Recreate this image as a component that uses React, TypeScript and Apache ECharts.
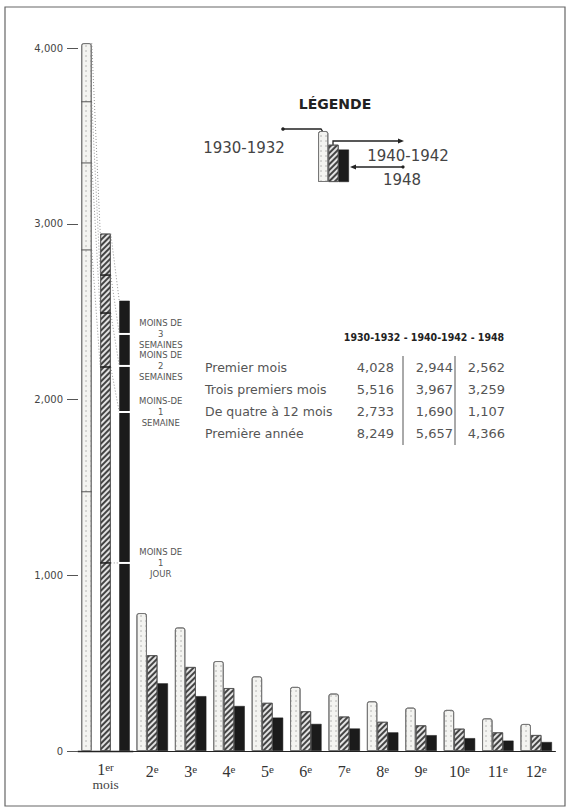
import React, { useEffect, useRef } from "react";
import * as echarts from "echarts";

// ---------- data ----------
const categories = ["1er mois", "2e", "3e", "4e", "5e", "6e", "7e", "8e", "9e", "10e", "11e", "12e"];
const seriesNames = ["1930-1932", "1940-1942", "1948"];
const values1930 = [4028, 785, 703, 512, 425, 365, 327, 283, 247, 234, 186, 154];
const values1940 = [2944, 545, 478, 358, 274, 226, 196, 166, 146, 127, 106, 91];
const values1948 = [2562, 385, 312, 256, 190, 154, 128, 106, 90, 73, 59, 51];
const yMin = 0;
const yMax = 4000;
const yInterval = 1000;
// first-month subdivisions (cumulative): <3 weeks, <2 weeks, <1 week, <1 day
const marks1930 = [3694, 3346, 2851, 1475];
const marks1940 = [2708, 2492, 2185, 1070];
const marks1948 = [2373, 2191, 1929, 1070];
const markLabels = ["MOINS DE\n3\nSEMAINES", "MOINS DE\n2\nSEMAINES", "MOINS-DE\n1\nSEMAINE", "MOINS DE\n1\nJOUR"];
const legendTitle = "LÉGENDE";
const tableHeader = "1930-1932 - 1940-1942 - 1948";
const tableRowLabels = ["Premier mois", "Trois premiers mois", "De quatre à 12 mois", "Première année"];
const table1930 = [4028, 5516, 2733, 8249];
const table1940 = [2944, 3967, 1690, 5657];
const table1948 = [2562, 3259, 1107, 4366];

// ---------- layout / style ----------
const W = 569;
const H = 810;
const BAR_W = 10.5;
const GAP1 = 0.81;
const STEP1 = BAR_W * (1 + GAP1);
const GRID_TOP = 48;
const GRID_BOTTOM = 59;
const LABEL_FONT = "DejaVu Sans";
const SERIF = "Liberation Serif";

const fmt = (v: number) => String(v).replace(/\B(?=(\d{3})+(?!\d))/g, ",");

const stipple = {
  symbol: "circle",
  symbolSize: 0.7,
  dashArrayX: [2, 3],
  dashArrayY: [2, 3],
  color: "rgba(70,70,70,0.45)",
};
const hatch = {
  symbol: "rect",
  symbolSize: 1,
  dashArrayX: [1, 0],
  dashArrayY: [1.3, 1.9],
  rotation: -Math.PI / 4,
  color: "rgba(40,40,40,0.85)",
};
const styles = [
  { color: "#f4f4f1", borderColor: "#777", borderWidth: 1, borderRadius: [2, 2, 0, 0], decal: stipple },
  { color: "#e2e2e2", borderColor: "#555", borderWidth: 0.8, decal: hatch },
  { color: "#1b1b1b", borderColor: "#1b1b1b", borderWidth: 0.5 },
];
const allValues = [values1930, values1940, values1948];

function xLabel(v: string) {
  const m = v.match(/^(\d+)(\D+?)(?: (.+))?$/);
  if (!m) return v;
  return m[3] ? `{n|${m[1]}}{s|${m[2]}}\n{m|${m[3]}}` : `{n|${m[1]}}{s|${m[2]}}`;
}
const rich = {
  n: { fontSize: 16, fontFamily: SERIF, color: "#333", lineHeight: 17 },
  s: { fontSize: 11, fontFamily: SERIF, color: "#333", lineHeight: 17, verticalAlign: "top" },
  m: { fontSize: 13.5, fontFamily: SERIF, color: "#444", lineHeight: 13 },
};

export default function App() {
  const ref = useRef<HTMLDivElement>(null);
  useEffect(() => {
    if (!ref.current) return;
    const chart = echarts.init(ref.current, undefined, { renderer: "svg" });

    const grid1Left = 78;
    const grid2Left = 133;
    const grid2Right = 555.4;

    const lv1930 = [values1930[0], ...marks1930];
    const lv1940 = [values1940[0], ...marks1940];
    const lv1948 = [values1948[0], ...marks1948];
    const markData: number[][] = [];
    marks1930.forEach((v) => markData.push([0, v, 0]));
    marks1940.forEach((v) => markData.push([0, v, 1]));
    marks1948.forEach((v) => markData.push([0, v, 2]));
    const connData: number[][] = [];
    for (let i = 0; i < 4; i++) connData.push([0, lv1930[i], 0, lv1940[i]]);
    for (let i = 0; i < 5; i++) connData.push([0, lv1940[i], 1, lv1948[i]]);

    const barSeries: any[] = [];
    allValues.forEach((vals, s) => {
      barSeries.push({
        type: "bar",
        name: seriesNames[s],
        xAxisIndex: 0,
        yAxisIndex: 0,
        data: vals.slice(0, 1),
        barWidth: BAR_W,
        barGap: `${GAP1 * 100}%`,
        itemStyle: styles[s],
        clip: false,
        silent: true,
        z: 2,
      });
    });
    allValues.forEach((vals, s) => {
      barSeries.push({
        type: "bar",
        name: seriesNames[s],
        xAxisIndex: 1,
        yAxisIndex: 1,
        data: vals.slice(1),
        barWidth: BAR_W,
        barGap: "0%",
        itemStyle: styles[s],
        silent: true,
      });
    });
    allValues.forEach((vals, s) => {
      barSeries.push({
        type: "bar",
        name: seriesNames[s],
        xAxisIndex: 2,
        yAxisIndex: 2,
        data: vals.slice(0, 1),
        barWidth: 10.3,
        barGap: "0%",
        itemStyle: styles[s],
        silent: true,
      });
    });

    const markSeries = {
      type: "custom",
      xAxisIndex: 0,
      yAxisIndex: 0,
      clip: false,
      silent: true,
      z: 10,
      data: markData,
      encode: { x: 0, y: 1 },
      renderItem: (_p: any, api: any) => {
        const v = api.value(1);
        const s = api.value(2);
        const pt = api.coord([0, v]);
        const cx = pt[0] + (s - 1) * STEP1;
        const half = BAR_W / 2;
        if (s === 2) {
          return {
            type: "rect",
            z2: 100,
            shape: { x: cx - half - 0.6, y: pt[1] - 1, width: BAR_W + 1.2, height: 2 },
            style: { fill: "#ffffff" },
          };
        }
        return {
          type: "line",
          z2: 100,
          shape: { x1: cx - half, y1: pt[1], x2: cx + half, y2: pt[1] },
          style: { stroke: s === 0 ? "#555" : "#222", lineWidth: s === 0 ? 1 : 1.6 },
        };
      },
    };

    const connSeries = {
      type: "custom",
      xAxisIndex: 0,
      yAxisIndex: 0,
      clip: false,
      silent: true,
      z: 9,
      data: connData,
      encode: { x: 0, y: 1 },
      renderItem: (_p: any, api: any) => {
        const from = api.value(2);
        const p1 = api.coord([0, api.value(1)]);
        const p2 = api.coord([0, api.value(3)]);
        const half = BAR_W / 2;
        const x1 = p1[0] + (from - 1) * STEP1 + half;
        const x2 = p1[0] + from * STEP1 - half;
        return {
          type: "line",
          shape: { x1, y1: p1[1], x2, y2: p2[1] },
          style: { stroke: "#888", lineWidth: 0.9, lineDash: [1, 2] },
        };
      },
    };

    const annotSeries = {
      type: "custom",
      xAxisIndex: 0,
      yAxisIndex: 0,
      clip: false,
      silent: true,
      z: 10,
      data: marks1948.map((v) => [0, v]),
      encode: { x: 0, y: 1 },
      renderItem: (p: any, api: any) => {
        const pt = api.coord([0, api.value(1)]);
        const x = pt[0] + STEP1 + BAR_W / 2 + 31;
        return {
          type: "text",
          x,
          y: pt[1],
          style: {
            text: markLabels[p.dataIndex],
            fill: "#555",
            fontSize: 8.5,
            fontFamily: LABEL_FONT,
            align: "center",
            verticalAlign: "middle",
            lineHeight: 11,
          },
        };
      },
    };

    // ---------- graphic: frame, legend, table ----------
    const g: any[] = [];
    g.push({
      type: "rect",
      shape: { x: 5, y: 7, width: 560, height: 799 },
      style: { fill: "none", stroke: "#666", lineWidth: 1.2 },
      silent: true,
    });
    g.push({
      type: "text",
      x: 335,
      y: 104,
      style: { text: legendTitle, fill: "#222", fontSize: 14, fontWeight: "bold", fontFamily: LABEL_FONT, align: "center", verticalAlign: "middle" },
    });
    const lineStyle = { stroke: "#222", lineWidth: 1.3, fill: "none" };
    g.push({ type: "polyline", shape: { points: [[283, 129], [321, 129], [323, 132]] }, style: lineStyle });
    g.push({ type: "circle", shape: { cx: 283, cy: 129, r: 1.8 }, style: { fill: "#222" } });
    g.push({ type: "polyline", shape: { points: [[333, 146], [333, 141], [399, 141]] }, style: lineStyle });
    g.push({ type: "polygon", shape: { points: [[398, 138.5], [404, 141], [398, 143.5]] }, style: { fill: "#222" } });
    g.push({ type: "line", shape: { x1: 355, y1: 167, x2: 403, y2: 167 }, style: lineStyle });
    g.push({ type: "polygon", shape: { points: [[356, 164.5], [350, 167], [356, 169.5]] }, style: { fill: "#222" } });
    g.push({ type: "circle", shape: { cx: 403, cy: 167, r: 1.6 }, style: { fill: "#222" } });
    const legendText = (text: string, x: number, y: number) => ({
      type: "text",
      x,
      y,
      style: { text, fill: "#444", fontSize: 15, fontFamily: LABEL_FONT, align: "center", verticalAlign: "middle" },
    });
    g.push(legendText(seriesNames[0], 244, 148));
    g.push(legendText(seriesNames[1], 408, 156));
    g.push(legendText(seriesNames[2], 402, 180));

    // table
    g.push({
      type: "text",
      x: 424,
      y: 337,
      style: { text: tableHeader, fill: "#222", fontSize: 10.5, fontWeight: "bold", fontFamily: "DejaVu Sans Condensed, DejaVu Sans", align: "center", verticalAlign: "middle" },
    });
    const rowY = [367, 389, 411, 433];
    const colRight = [394, 453, 505];
    const cols = [table1930, table1940, table1948];
    tableRowLabels.forEach((lab, i) => {
      g.push({
        type: "text",
        x: 205,
        y: rowY[i],
        style: { text: lab, fill: "#555", fontSize: 12.5, fontFamily: LABEL_FONT, align: "left", verticalAlign: "middle" },
      });
      cols.forEach((col, c) => {
        g.push({
          type: "text",
          x: colRight[c],
          y: rowY[i],
          style: { text: fmt(col[i]), fill: "#555", fontSize: 13, fontFamily: LABEL_FONT, align: "right", verticalAlign: "middle" },
        });
      });
    });
    [403, 455].forEach((x) => {
      g.push({ type: "line", shape: { x1: x, y1: 356, x2: x, y2: 445 }, style: { stroke: "#555", lineWidth: 1 } });
    });

    const yAxisBase = { type: "value", min: yMin, max: yMax, interval: yInterval };
    const option: any = {
      animation: false,
      backgroundColor: "#ffffff",
      textStyle: { fontFamily: LABEL_FONT },
      grid: [
        { left: grid1Left, width: grid2Left - grid1Left, top: GRID_TOP, bottom: GRID_BOTTOM },
        { left: grid2Left, width: grid2Right - grid2Left, top: GRID_TOP, bottom: GRID_BOTTOM },
        { left: 318, width: 31, top: 131, height: 51 },
      ],
      xAxis: [
        {
          type: "category",
          gridIndex: 0,
          data: categories.slice(0, 1),
          axisLine: { lineStyle: { color: "#222", width: 1.4 } },
          axisTick: { show: false },
          axisLabel: { formatter: xLabel, rich, margin: 10, interval: 0 },
        },
        {
          type: "category",
          gridIndex: 1,
          data: categories.slice(1),
          axisLine: { lineStyle: { color: "#222", width: 1.2 } },
          axisTick: { show: false },
          axisLabel: { formatter: xLabel, rich, margin: 12, interval: 0 },
        },
        { type: "category", gridIndex: 2, data: [legendTitle], show: false },
      ],
      yAxis: [
        {
          ...yAxisBase,
          gridIndex: 0,
          axisLine: { show: false },
          axisTick: { show: true, length: 11, lineStyle: { color: "#555", width: 1 } },
          splitLine: { show: false },
          axisLabel: { formatter: (v: number) => fmt(v), color: "#444", fontSize: 10, fontFamily: LABEL_FONT, margin: 15 },
        },
        { ...yAxisBase, gridIndex: 1, show: false, splitLine: { show: false } },
        { type: "value", gridIndex: 2, min: 0, max: values1930[0], show: false, splitLine: { show: false } },
      ],
      graphic: g,
      series: [...barSeries, connSeries, markSeries, annotSeries],
    };
    chart.setOption(option);
    return () => chart.dispose();
  }, []);

  return (
    <div
      ref={ref}
      style={{ position: "absolute", left: 0, top: 0, width: W, height: H, background: "#fff" }}
    />
  );
}
